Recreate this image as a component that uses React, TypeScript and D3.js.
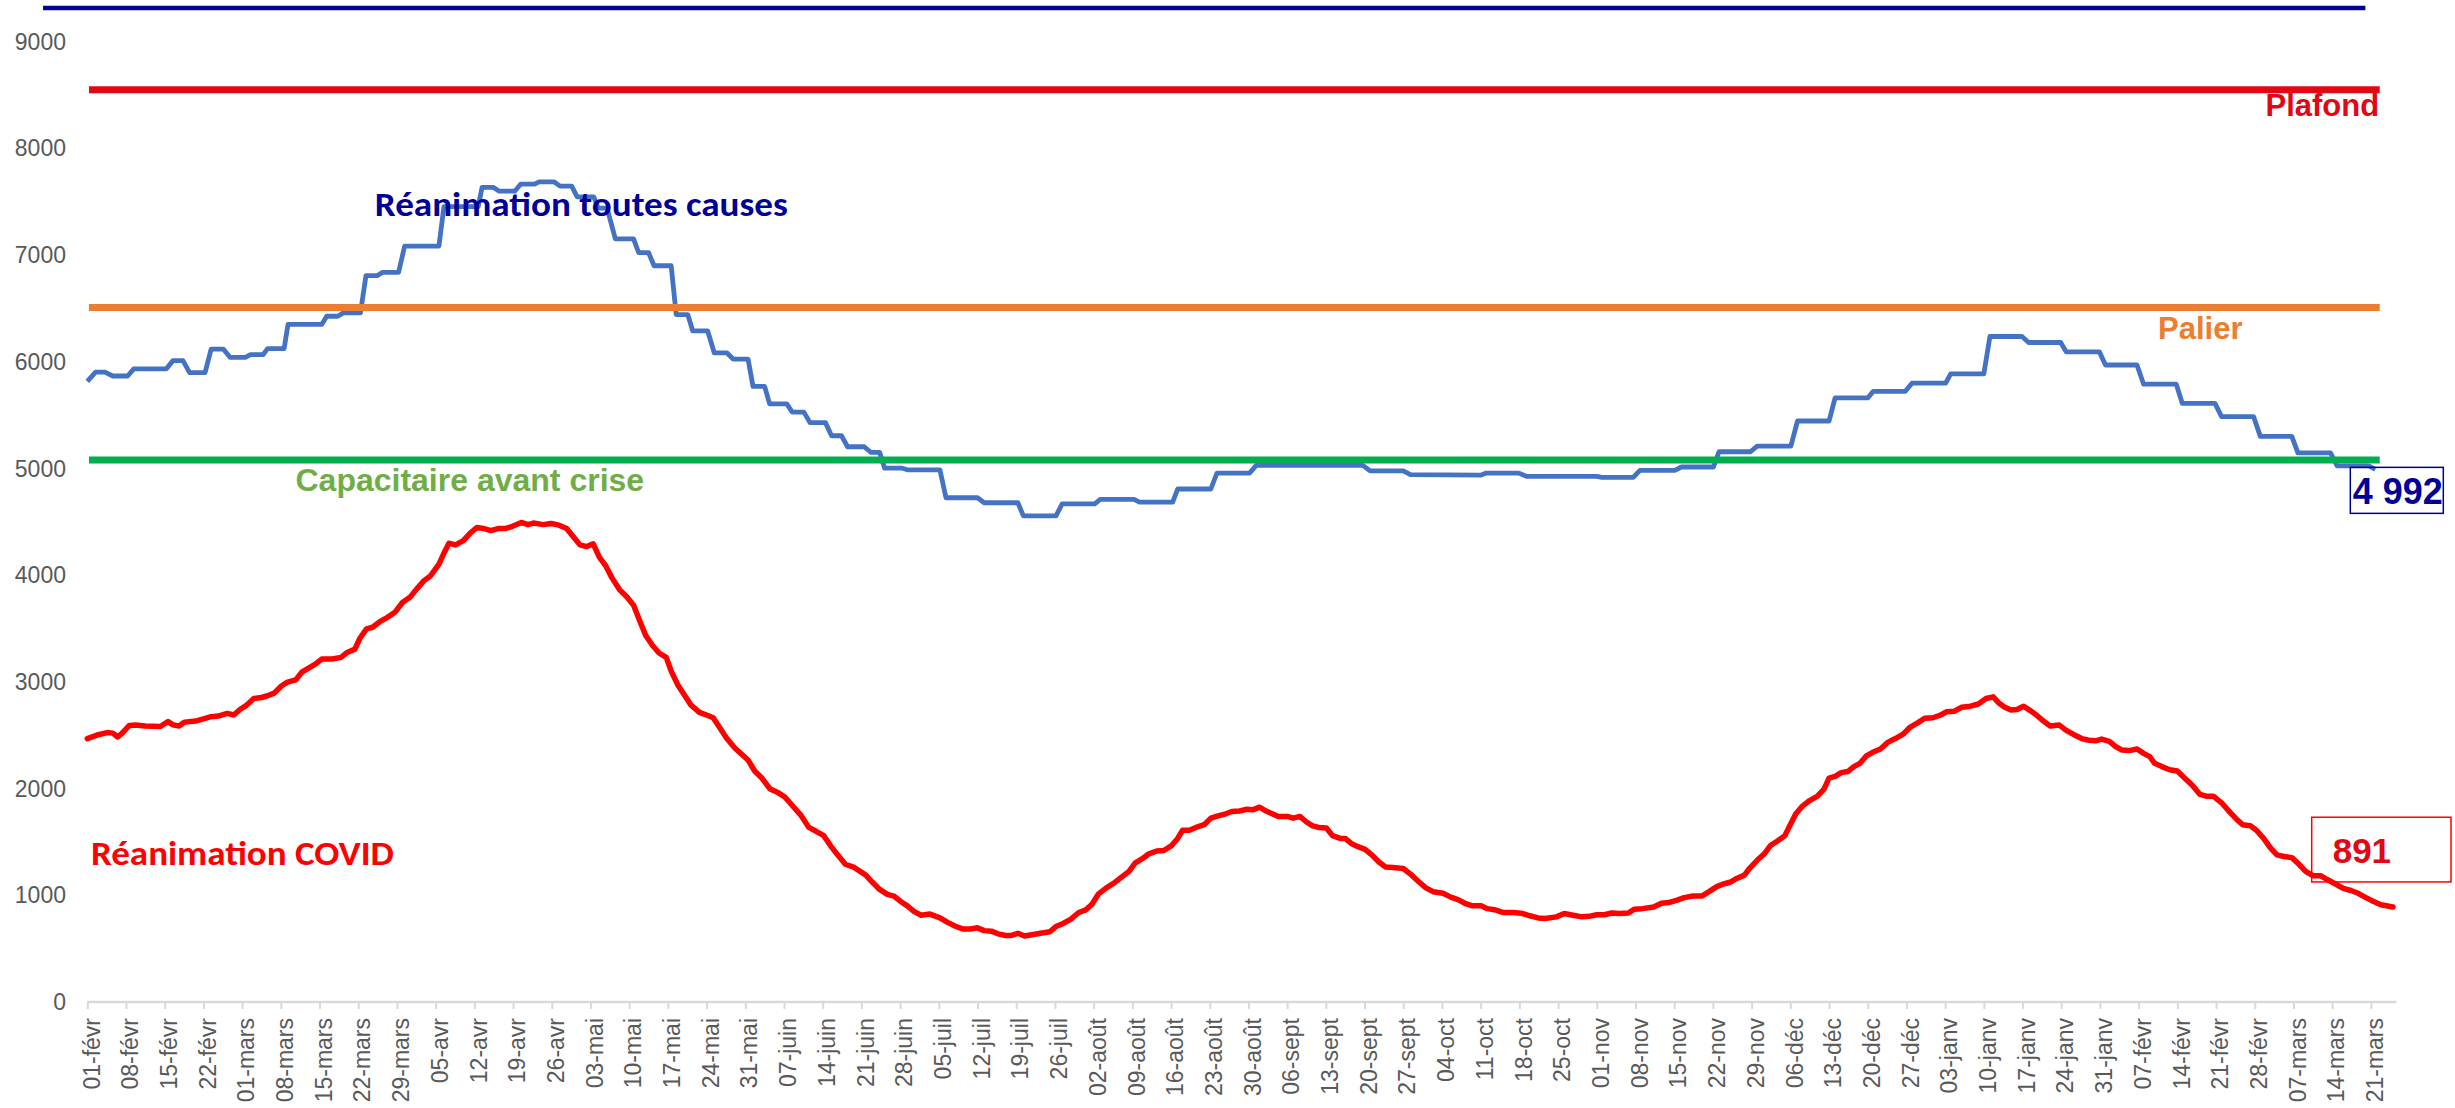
import React, { useRef, useEffect } from 'react';
import * as d3 from 'd3';

// x = nombre de jours depuis le 01-févr-2021
const tickLabels = [
  '01-févr', '08-févr', '15-févr', '22-févr', '01-mars', '08-mars', '15-mars', '22-mars', '29-mars',
  '05-avr', '12-avr', '19-avr', '26-avr', '03-mai', '10-mai', '17-mai', '24-mai', '31-mai',
  '07-juin', '14-juin', '21-juin', '28-juin', '05-juil', '12-juil', '19-juil', '26-juil',
  '02-août', '09-août', '16-août', '23-août', '30-août', '06-sept', '13-sept', '20-sept', '27-sept',
  '04-oct', '11-oct', '18-oct', '25-oct', '01-nov', '08-nov', '15-nov', '22-nov', '29-nov',
  '06-déc', '13-déc', '20-déc', '27-déc', '03-janv', '10-janv', '17-janv', '24-janv', '31-janv',
  '07-févr', '14-févr', '21-févr', '28-févr', '07-mars', '14-mars', '21-mars',
];

const yTicks = [0, 1000, 2000, 3000, 4000, 5000, 6000, 7000, 8000, 9000];

// Réanimation toutes causes (paliers hebdomadaires)
const reaToutesCauses: [number, number][] = [
  [0, 5816], [1.5, 5903], [3.2, 5903], [4.6, 5867], [7.3, 5867], [8.4, 5934], [14.3, 5934],
  [15.5, 6011], [17.3, 6011], [18.5, 5898], [21.3, 5898], [22.4, 6119], [24.6, 6119],
  [25.8, 6042], [28.6, 6042], [29.5, 6067], [31.8, 6067], [32.6, 6124], [35.6, 6124],
  [36.3, 6350], [42.4, 6350], [43.3, 6427], [45.3, 6427], [46.3, 6458], [49.4, 6458],
  [50.4, 6808], [52.5, 6808], [53.4, 6839], [56.3, 6839], [57.4, 7085], [63.6, 7085],
  [64.5, 7455], [70.7, 7455], [71.4, 7635], [73.4, 7635], [74.5, 7599], [77.3, 7599],
  [78.4, 7666], [80.9, 7666], [81.7, 7687], [84.4, 7687], [85.5, 7646], [87.6, 7646],
  [88.6, 7545], [91.6, 7545], [92.4, 7441], [94, 7441], [95.5, 7152], [98.8, 7152],
  [99.7, 7024], [101.5, 7024], [102.5, 6900], [105.6, 6900], [106.5, 6443], [108.6, 6443],
  [109.5, 6289], [112.2, 6289], [113.4, 6083], [115.7, 6083], [116.8, 6026], [119.5, 6026],
  [120.4, 5769], [122.5, 5769], [123.4, 5605], [126.5, 5605], [127.5, 5528], [129.6, 5528],
  [130.7, 5430], [133.5, 5430], [134.6, 5307], [136.4, 5307], [137.5, 5204], [140.5, 5204],
  [141.7, 5152], [143.3, 5152], [144.2, 5003], [147.4, 5003], [148.3, 4988], [154.2, 4988],
  [155.3, 4726], [161, 4726], [162.2, 4679], [168.3, 4679], [169.3, 4556], [175.2, 4556],
  [176.3, 4669], [182.2, 4669], [183.2, 4710], [189.3, 4710], [190.3, 4684], [196.3, 4684],
  [197.2, 4808], [203.2, 4808], [204.3, 4957], [210.2, 4957], [211.4, 5029], [230.7, 5029],
  [232, 4978], [238, 4978], [239.3, 4942], [252, 4937], [253, 4957], [258.9, 4957],
  [260.3, 4926], [273, 4926], [273.9, 4916], [279.6, 4916], [280.8, 4983], [287.1, 4983],
  [288.3, 5014], [294.1, 5014], [295.1, 5157], [300.8, 5157], [302, 5209], [308.1, 5209],
  [309.3, 5445], [315, 5445], [316.1, 5661], [322, 5661], [323, 5723], [328.8, 5723],
  [330, 5800], [336.1, 5800], [337, 5887], [343, 5887], [344.1, 6237], [349.9, 6237],
  [351.1, 6181], [356.9, 6181], [357.9, 6093], [363.9, 6093], [365, 5970], [370.7, 5970],
  [371.9, 5790], [377.8, 5790], [378.9, 5610], [384.8, 5610], [386, 5486], [391.8, 5486],
  [393, 5301], [398.7, 5301], [399.8, 5147], [405.7, 5147], [406.9, 5024], [412.6, 5024],
  [413.8, 4992],
];

// Réanimation COVID
const reaCovid: [number, number][] = [
  [0, 2469], [2, 2505], [3.6, 2525], [4.6, 2520], [5.5, 2484], [6.4, 2525], [7.6, 2592],
  [8.7, 2597], [10.5, 2587], [13.2, 2582], [14.6, 2628], [15.5, 2597], [16.6, 2587],
  [17.6, 2623], [19.6, 2633], [21, 2654], [22.4, 2674], [23.7, 2680], [25.3, 2705],
  [26.5, 2690], [27.6, 2741], [28.7, 2777], [30.1, 2844], [31.5, 2854], [32.6, 2870],
  [33.8, 2895], [35.1, 2962], [36.2, 2998], [37.7, 3019], [38.8, 3091], [40.1, 3132],
  [41.3, 3168], [42.4, 3214], [44.3, 3214], [45.9, 3230], [47, 3276], [48.4, 3307],
  [49.3, 3409], [50.5, 3497], [51.6, 3512], [52.9, 3564], [54.3, 3605], [55.7, 3656],
  [57, 3744], [58.4, 3795], [59.6, 3872], [60.9, 3949], [62, 3990], [63.6, 4104],
  [64.5, 4206], [65.4, 4299], [66.6, 4284], [68, 4325], [69.3, 4397], [70.5, 4448],
  [71.6, 4438], [73, 4417], [74.4, 4438], [75.7, 4438], [76.9, 4458], [78.5, 4494],
  [79.7, 4474], [80.7, 4489], [82.4, 4474], [83.9, 4484], [85.3, 4469], [86.7, 4438],
  [87.9, 4361], [89.1, 4284], [90.3, 4268], [91.5, 4294], [92.6, 4170], [93.7, 4093],
  [94.9, 3975], [96.3, 3862], [97.6, 3795], [98.8, 3718], [99.9, 3574], [101, 3435],
  [102.2, 3343], [103.4, 3271], [104.7, 3230], [105.6, 3101], [106.8, 2972], [107.9, 2885],
  [109.2, 2782], [110.7, 2715], [112, 2690], [113.2, 2664], [114.3, 2577], [115.6, 2474],
  [117.1, 2381], [118.4, 2320], [119.5, 2268], [120.7, 2165], [122, 2099], [123.5, 1996],
  [125, 1960], [126.2, 1919], [127.5, 1842], [129, 1754], [130.5, 1636], [131.8, 1600],
  [133.2, 1559], [134.4, 1466], [135.7, 1379], [137.1, 1291], [138.7, 1261], [140.8, 1189],
  [142, 1122], [143.3, 1055], [144.7, 1009], [145.9, 993], [147.1, 942], [148.3, 901],
  [149.5, 849], [150.8, 813], [152.4, 824], [154.2, 788], [155.6, 746], [157, 710],
  [158.3, 685], [159.7, 685], [161, 695], [162.2, 669], [163.5, 664], [164.7, 639],
  [166.1, 623], [167, 623], [168.3, 644], [169.5, 618], [171.1, 633], [172.4, 644],
  [174.1, 659], [175.3, 710], [176.5, 736], [177.9, 777], [179.3, 839], [180.6, 864],
  [181.7, 916], [182.9, 1014], [184.3, 1070], [185.6, 1111], [187, 1168], [188.4, 1225],
  [189.5, 1302], [190.8, 1343], [192, 1389], [193.4, 1415], [194.7, 1420], [196.1, 1466],
  [197.2, 1533], [198.1, 1610], [199.3, 1610], [200.5, 1636], [202, 1662], [203.2, 1723],
  [204.5, 1744], [205.9, 1764], [207, 1785], [208.4, 1790], [209.7, 1806], [210.8, 1801],
  [212, 1826], [213.2, 1790], [214.3, 1764], [215.4, 1739], [217, 1739], [218.1, 1723],
  [219.3, 1739], [220.5, 1687], [221.6, 1651], [222.7, 1636], [224.1, 1631], [225.2, 1559],
  [226.6, 1533], [227.5, 1533], [228.7, 1482], [229.8, 1456], [231.1, 1430], [232.3, 1379],
  [233.6, 1312], [234.8, 1266], [236.1, 1261], [238, 1251], [239.3, 1199], [240.7, 1132],
  [242.1, 1070], [243.4, 1034], [245.2, 1019], [246.6, 983], [248, 957], [249.3, 921],
  [250.5, 901], [252.1, 901], [253.2, 875], [254.5, 865], [256, 839], [258, 839],
  [259.6, 829], [260.9, 808], [262.4, 788], [263.6, 782], [265.7, 798], [267.1, 829],
  [268.7, 813], [270.3, 798], [271.6, 803], [273, 818], [274.4, 818], [275.7, 834],
  [277.1, 829], [278.7, 834], [279.8, 870], [281.2, 875], [283.3, 890], [284.7, 926],
  [286, 932], [287.4, 952], [288.8, 978], [290.4, 993], [292, 993], [293.3, 1034],
  [294.7, 1081], [295.9, 1106], [297.1, 1122], [298.3, 1158], [299.7, 1189], [300.6, 1251],
  [302, 1328], [303.3, 1389], [304.4, 1466], [305.6, 1507], [307, 1559], [307.9, 1651],
  [309, 1764], [310.2, 1836], [311.5, 1888], [312.9, 1929], [314.1, 1996], [315, 2099],
  [316.1, 2114], [317.2, 2150], [318.4, 2160], [319.5, 2206], [320.6, 2237], [321.7, 2304],
  [322.9, 2340], [324.3, 2371], [325.6, 2433], [327, 2469], [328.4, 2510], [329.7, 2577],
  [331.1, 2618], [332.3, 2659], [333.8, 2664], [335.2, 2690], [336.3, 2721], [337.7, 2726],
  [339, 2762], [340.6, 2772], [342, 2793], [343.4, 2844], [344.7, 2860], [345.7, 2803],
  [346.8, 2762], [347.9, 2736], [349, 2741], [350.2, 2772], [351.4, 2731], [352.5, 2690],
  [353.9, 2628], [355, 2587], [356.6, 2597], [357.9, 2546], [359.3, 2505], [360.7, 2469],
  [362, 2453], [363.2, 2448], [364.3, 2464], [365.7, 2443], [366.9, 2392], [368, 2361],
  [369.3, 2356], [370.7, 2371], [371.9, 2330], [373, 2299], [373.9, 2237], [375.2, 2206],
  [376.6, 2176], [378, 2165], [379.3, 2099], [380.7, 2032], [382.1, 1945], [383.2, 1929],
  [384.5, 1929], [386, 1867], [387.3, 1790], [388.7, 1713], [389.8, 1662], [391.2, 1651],
  [392.3, 1610], [393.6, 1533], [394.8, 1446], [396, 1379], [397.3, 1364], [398.7, 1353],
  [400, 1291], [401.2, 1225], [402.5, 1184], [403.9, 1184], [405.1, 1148], [406.6, 1106],
  [408, 1065], [409.4, 1045], [410.7, 1019], [412.1, 978], [413.5, 942], [414.8, 911],
  [417, 891],
];

// seuils horizontaux
const seuilNoms = ['Plafond', 'Palier', 'Capacitaire avant crise'];
const seuilValeurs = [8550, 6510, 5080];
const seuilJours = [0.3, 414.6];
const cadreHaut = { value: 9316, from: -8, to: 412 };

const W = 2455, H = 1108;

function App() {
  const ref = useRef<SVGSVGElement>(null);

  useEffect(() => {
    const svg = d3.select(ref.current);
    svg.selectAll('*').remove();

    const x = d3.scaleLinear().domain([0, 417]).range([87.3, 2393]);
    const y = d3.scaleLinear().domain([0, 9000]).range([1002, 41.7]);
    const arial = 'Arial, "Liberation Sans", sans-serif';
    const calibri = 'Carlito, Calibri, Lato, sans-serif';
    const fmt = d3.formatLocale({ decimal: ',', thousands: '\u00a0', grouping: [3], currency: ['', '€'] }).format(',d');

    // axe des x
    const xAxis = d3.axisBottom(x)
      .tickValues(tickLabels.map((_, i) => i * 7))
      .tickFormat((_, i) => tickLabels[i])
      .tickSize(7)
      .tickSizeOuter(0);
    const gx = svg.append('g').attr('transform', `translate(0,${y(0)})`).call(xAxis);
    gx.select('.domain').attr('stroke', '#d9d9d9').attr('stroke-width', 2.5)
      .attr('d', `M${x(0)},0H${x(417.6)}`);
    gx.selectAll('.tick line').attr('stroke', '#d9d9d9').attr('stroke-width', 2);
    gx.selectAll('.tick text')
      .attr('transform', 'translate(0,16) rotate(-90)')
      .attr('x', 0).attr('y', 11.7).attr('dy', 0)
      .attr('text-anchor', 'end')
      .attr('fill', '#595959')
      .style('font-family', arial).style('font-size', '23px');

    // étiquettes y
    svg.append('g').selectAll('text').data(yTicks).join('text')
      .attr('x', 66).attr('y', (d) => y(d)).attr('dy', '0.35em')
      .attr('text-anchor', 'end').attr('fill', '#595959')
      .style('font-family', arial).style('font-size', '23px')
      .text((d) => d);

    const line = d3.line<[number, number]>().x((d) => x(d[0])).y((d) => y(d[1]));

    svg.append('path').datum(reaToutesCauses)
      .attr('fill', 'none').attr('stroke', '#4472c4').attr('stroke-width', 4.8)
      .attr('stroke-linejoin', 'round').attr('d', line);

    svg.append('path').datum(reaCovid)
      .attr('fill', 'none').attr('stroke', '#ff0000').attr('stroke-width', 5.5)
      .attr('stroke-linejoin', 'round').attr('stroke-linecap', 'round').attr('d', line);

    const seuilCouleurs = ['#e30613', '#ed7d31', '#00b050'];
    svg.append('g').selectAll('line').data(seuilValeurs).join('line')
      .attr('x1', x(seuilJours[0])).attr('x2', x(seuilJours[1]))
      .attr('y1', (d) => y(d)).attr('y2', (d) => y(d))
      .attr('stroke', (_, i) => seuilCouleurs[i]).attr('stroke-width', 7);

    svg.append('line')
      .attr('x1', x(cadreHaut.from)).attr('x2', x(cadreHaut.to))
      .attr('y1', y(cadreHaut.value)).attr('y2', y(cadreHaut.value))
      .attr('stroke', '#000096').attr('stroke-width', 4.5);

    const label = (txt: string, day: number, val: number, color: string, font: string, size: number, anchor = 'start') =>
      svg.append('text').attr('x', x(day)).attr('y', y(val))
        .attr('text-anchor', anchor).attr('fill', color)
        .style('font-family', font).style('font-size', `${size}px`).style('font-weight', 'bold')
        .text(txt);

    label('Réanimation toutes causes', 52, 7369, '#000099', calibri, 35)
      .attr('textLength', 413).attr('lengthAdjust', 'spacingAndGlyphs');
    label('Réanimation COVID', 0.65, 1284, '#ff0000', calibri, 34)
      .attr('textLength', 303).attr('lengthAdjust', 'spacingAndGlyphs');
    label(seuilNoms[0], 414.5, 8300, '#e30613', arial, 31, 'end');
    label(seuilNoms[1], 374.5, 6213, '#ed7d31', arial, 31);
    svg.append('text').attr('x', x(37.65)).attr('y', y(4791))
      .attr('fill', '#70ad47')
      .style('font-family', '"Liberation Sans Narrow", "Arial Narrow", Arial, sans-serif')
      .style('font-size', '32px').style('font-weight', 'bold')
      .text(seuilNoms[2]);

    // étiquettes de dernière valeur
    const [lbDay, lbVal] = reaToutesCauses[reaToutesCauses.length - 1];
    const bx = x(lbDay) - 25, by = y(lbVal) - 2;
    svg.append('rect').attr('x', bx).attr('y', by).attr('width', 93).attr('height', 46)
      .attr('fill', 'none').attr('stroke', '#000099').attr('stroke-width', 1.5);
    svg.append('text').attr('x', bx + 2.5).attr('y', by + 36.7).attr('fill', '#000099')
      .style('font-family', arial).style('font-size', '36px').style('font-weight', 'bold')
      .text(fmt(lbVal));

    const [lrDay, lrVal] = reaCovid[reaCovid.length - 1];
    const rx = x(lrDay) - 81.3, ry = y(lrVal) - 89.7;
    svg.append('rect').attr('x', rx).attr('y', ry).attr('width', 139.3).attr('height', 64.7)
      .attr('fill', 'none').attr('stroke', '#ff0000').attr('stroke-width', 1.5);
    svg.append('text').attr('x', rx + 21).attr('y', ry + 46).attr('fill', '#e30613')
      .style('font-family', arial).style('font-size', '35px').style('font-weight', 'bold')
      .text(fmt(lrVal));
  }, []);

  return (
    <svg ref={ref} width={W} height={H}
      style={{ position: 'absolute', left: 0, top: 0, background: '#fff' }} />
  );
}

export default App;
